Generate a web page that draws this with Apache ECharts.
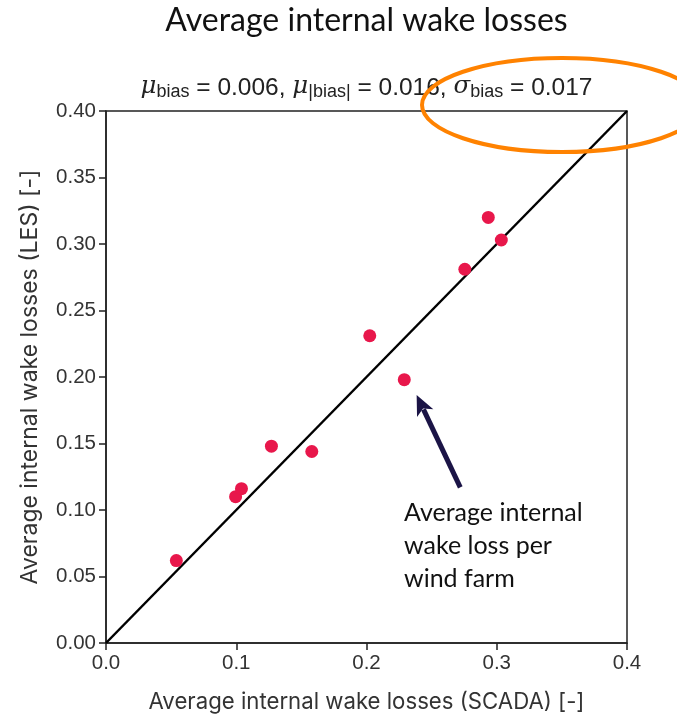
<!DOCTYPE html>
<html><head><meta charset="utf-8">
<script src="https://cdn.jsdelivr.net/npm/echarts@6/dist/echarts.min.js"></script>
<style>html,body{margin:0;padding:0;background:#fff}#c{width:677px;height:715px}</style>
</head><body><div id="c"></div>
<script>
const scada = [0.054, 0.0995, 0.104, 0.127, 0.158, 0.2025, 0.229, 0.2755, 0.2935, 0.3035];
const les   = [0.062, 0.110, 0.116, 0.148, 0.144, 0.231, 0.198, 0.281, 0.320, 0.303];
const diagonal = [[0, 0], [0.4, 0.4]];
const xTicks = [0, 0.1, 0.2, 0.3, 0.4];
const yTicks = [0, 0.05, 0.1, 0.15, 0.2, 0.25, 0.3, 0.35, 0.4];
const arrowTail = [0.272, 0.117];
const arrowHead = [0.2385, 0.1865];

const chart = echarts.init(document.getElementById('c'));
const pts = scada.map((x, i) => [x, les[i]]);
chart.setOption({
  animation: false,
  backgroundColor: '#fff',
  grid: { left: 106, right: 50, top: 111, bottom: 72, show: true, borderColor: '#222', borderWidth: 1.5,
          containLabel: false, outerBoundsMode: 'none' },
  xAxis: {
    type: 'value', min: 0, max: 0.4, interval: 0.1,
    name: 'Average internal wake losses (SCADA) [-]', nameLocation: 'middle', nameGap: 48,
    nameTextStyle: { fontFamily: 'Inter', fontSize: 22.2, color: '#333' },
    axisLine: { show: true, lineStyle: { color: '#222', width: 1.5 } },
    axisTick: { show: true, length: 7, lineStyle: { color: '#222', width: 1.5 } },
    axisLabel: { fontFamily: 'Liberation Sans', fontSize: 20.5, color: '#333', margin: 10,
      formatter: v => xTicks.includes(+v.toFixed(2)) ? v.toFixed(1) : '' },
    splitLine: { show: false }
  },
  yAxis: {
    type: 'value', min: 0, max: 0.4, interval: 0.05,
    name: 'Average internal wake losses (LES) [-]', nameLocation: 'middle', nameGap: 64,
    nameTextStyle: { fontFamily: 'Inter', fontSize: 23, color: '#333' },
    axisLine: { show: true, lineStyle: { color: '#222', width: 1.5 } },
    axisTick: { show: true, length: 7, lineStyle: { color: '#222', width: 1.5 } },
    axisLabel: { fontFamily: 'Liberation Sans', fontSize: 20.5, color: '#333', margin: 10,
      formatter: v => yTicks.includes(+v.toFixed(2)) ? v.toFixed(2) : '' },
    splitLine: { show: false }
  },
  series: [{
    type: 'line', data: diagonal, symbol: 'none', silent: true,
    lineStyle: { color: '#000', width: 2.5 }, z: 2
  }, {
    type: 'scatter', data: pts, symbolSize: 13,
    itemStyle: { color: '#E8174B', opacity: 1 }, z: 3
  }]
});

function drawOverlay() {
  const t = chart.convertToPixel({ gridIndex: 0 }, arrowTail);
  const h = chart.convertToPixel({ gridIndex: 0 }, arrowHead);
  const dx = h[0] - t[0], dy = h[1] - t[1];
  const len = Math.hypot(dx, dy), ux = dx / len, uy = dy / len;
  const hl = 20, hw = 9;
  const bx = h[0] - ux * hl, by = h[1] - uy * hl;
  const px = -uy, py = ux;
  const cx = (chart.convertToPixel({ gridIndex: 0 }, [0, 0])[0] + chart.convertToPixel({ gridIndex: 0 }, [0.4, 0])[0]) / 2;
  chart.setOption({
    graphic: [
      { type: 'text', x: cx, y: 5,
        style: { text: 'Average internal wake losses', font: '32px Lato', fill: '#111', align: 'center' } },
      { type: 'text', x: cx, y: 73,
        style: {
          text: '{m|μ}{s|bias}{t| = 0.006, }{m|μ}{s||bias|}{t| = 0.016, }{m|σ}{s|bias}{t| = 0.017}',
          align: 'center',
          rich: {
            m: { fontFamily: 'DejaVu Serif', fontStyle: 'italic', fontSize: 24.5, fill: '#222', height: 28, verticalAlign: 'bottom' },
            s: { fontFamily: 'Liberation Sans', fontSize: 18, fill: '#222', padding: [10, 0, 0, 0], verticalAlign: 'bottom' },
            t: { fontFamily: 'Liberation Sans', fontSize: 24.5, fill: '#222', verticalAlign: 'bottom' }
          }
        } },
      { type: 'line', shape: { x1: t[0], y1: t[1], x2: bx + ux * 4, y2: by + uy * 4 },
        style: { stroke: '#1B1446', lineWidth: 5 }, z: 10 },
      { type: 'polygon', shape: { points: [h, [bx + px * hw, by + py * hw], [bx + ux * 5, by + uy * 5], [bx - px * hw, by - py * hw]] },
        style: { fill: '#1B1446' }, z: 10 },
      { type: 'text', left: 404, top: 496,
        style: { text: 'Average internal\nwake loss per\nwind farm', font: '25px Lato', fill: '#111', lineHeight: 33 }, z: 10 },
      { type: 'ellipse', shape: { cx: 562, cy: 105, rx: 140, ry: 47 },
        style: { fill: null, stroke: '#FF8200', lineWidth: 4 }, z: 20 }
    ]
  });
}
drawOverlay();
</script></body></html>
